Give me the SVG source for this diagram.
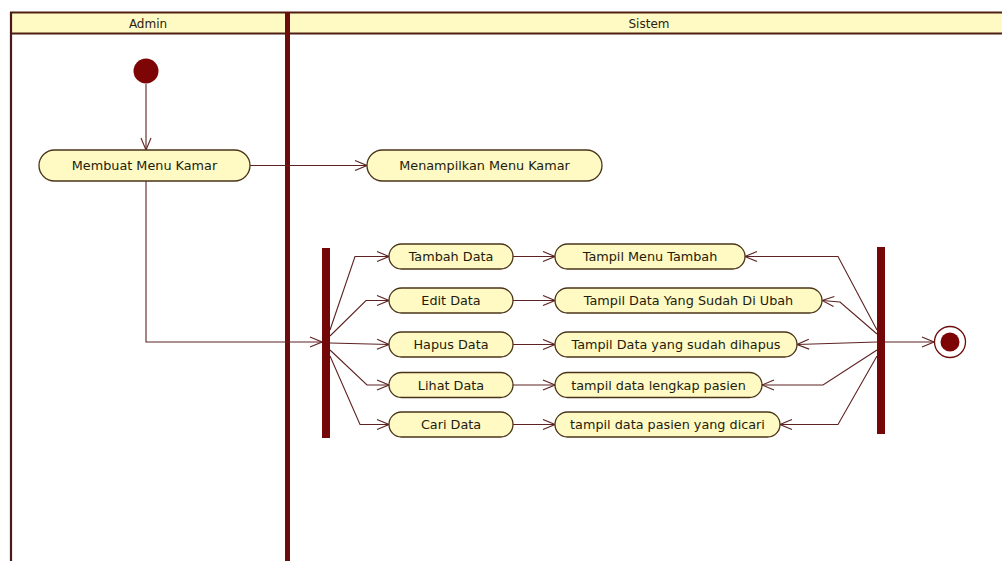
<svg xmlns="http://www.w3.org/2000/svg" width="1002" height="561" viewBox="0 0 1002 561">
<defs>
<style>
.lane{fill:#fffac4;stroke:#4e1f12;stroke-width:2}
.hdr{font-family:"DejaVu Sans","Liberation Sans",sans-serif;font-size:12px;fill:#2b2210;text-anchor:middle}
.act rect{fill:#fff9c4;stroke:#4a3418;stroke-width:1.3}
.act text{font-family:"DejaVu Sans","Liberation Sans",sans-serif;font-size:12.8px;fill:#231c0c;text-anchor:middle}
.bar{fill:#740808}
.edge{fill:none;stroke:#5e2222;stroke-width:1.1;marker-end:url(#arr)}
</style>
<marker id="arr" markerUnits="userSpaceOnUse" markerWidth="14" markerHeight="12" refX="13" refY="6" orient="auto">
<path d="M1,1 L13,6 L1,11" fill="none" stroke="#5e2222" stroke-width="1.1"/>
</marker>
</defs>
<rect width="1002" height="561" fill="#ffffff"/>
<g id="swimlanes">
<rect class="lane" x="11" y="12.5" width="1000" height="21"/>
<line x1="11" y1="12" x2="11" y2="570" stroke="#4a1a1a" stroke-width="2.2"/>
<rect x="285" y="12" width="5" height="560" fill="#6e0b0b"/>
<text class="hdr" x="148" y="28">Admin</text>
<text class="hdr" x="649" y="28">Sistem</text>
</g>
<g id="connectors">
<path class="edge" d="M146,84 L146,150"/>
<path class="edge" d="M250,165.5 L367,165.5"/>
<path class="edge" d="M146,181 L146,342 L322,342"/>
<path class="edge" d="M330,330 L355,256.5 L389,256.5"/>
<path class="edge" d="M330,336 L366,300.5 L389,300.5"/>
<path class="edge" d="M330,343 L389,344.5"/>
<path class="edge" d="M330,350 L367,385 L389,385"/>
<path class="edge" d="M330,356 L360,424.5 L389,424.5"/>
<path class="edge" d="M513,256.5 L555,256.5"/>
<path class="edge" d="M513,300.5 L555,300.5"/>
<path class="edge" d="M513,344.5 L555,344.5"/>
<path class="edge" d="M513,385 L555,385"/>
<path class="edge" d="M513,424.5 L555,424.5"/>
<path class="edge" d="M877,330 L838,256.5 L745,256.5"/>
<path class="edge" d="M877,334 L840,302 L822,300.5"/>
<path class="edge" d="M877,342 L797,344.5"/>
<path class="edge" d="M877,350 L823,385 L762,385"/>
<path class="edge" d="M877,356 L838,424.5 L780,424.5"/>
<path class="edge" d="M885,342 L934,342"/>
</g>
<g id="initial"><circle cx="146" cy="71" r="12.5" fill="#7d0505"/></g>
<g id="final">
<circle cx="950" cy="342" r="15.5" fill="#ffffff" stroke="#6e0b0b" stroke-width="1.3"/>
<circle cx="950" cy="342" r="9.5" fill="#7d0505"/>
</g>
<g id="fork"><rect class="bar" x="322" y="248" width="8" height="190"/></g>
<g id="join"><rect class="bar" x="877" y="247" width="8" height="187"/></g>
<g id="membuat_menu_kamar" class="act"><rect x="39" y="150" width="211" height="31" rx="15.5"/><text x="144.5" y="170">Membuat Menu Kamar</text></g>
<g id="menampilkan_menu_kamar" class="act"><rect x="367" y="150" width="235" height="31" rx="15.5"/><text x="484.5" y="170">Menampilkan Menu Kamar</text></g>
<g id="tambah_data" class="act"><rect x="389" y="244" width="124" height="25" rx="12.5"/><text x="451" y="261">Tambah Data</text></g>
<g id="edit_data" class="act"><rect x="389" y="288" width="124" height="25" rx="12.5"/><text x="451" y="305">Edit Data</text></g>
<g id="hapus_data" class="act"><rect x="389" y="332" width="124" height="25" rx="12.5"/><text x="451" y="349">Hapus Data</text></g>
<g id="lihat_data" class="act"><rect x="389" y="372.5" width="124" height="25" rx="12.5"/><text x="451" y="389.5">Lihat Data</text></g>
<g id="cari_data" class="act"><rect x="389" y="412" width="124" height="25" rx="12.5"/><text x="451" y="429">Cari Data</text></g>
<g id="tampil_menu_tambah" class="act"><rect x="555" y="244" width="190" height="25" rx="12.5"/><text x="650" y="261">Tampil Menu Tambah</text></g>
<g id="tampil_data_ubah" class="act"><rect x="555" y="288" width="267" height="25" rx="12.5"/><text x="688.5" y="305">Tampil Data Yang Sudah Di Ubah</text></g>
<g id="tampil_data_hapus" class="act"><rect x="555" y="332" width="242" height="25" rx="12.5"/><text x="676" y="349">Tampil Data yang sudah dihapus</text></g>
<g id="tampil_data_lengkap" class="act"><rect x="555" y="372.5" width="207" height="25" rx="12.5"/><text x="658.5" y="389.5">tampil data lengkap pasien</text></g>
<g id="tampil_data_dicari" class="act"><rect x="555" y="412" width="225" height="25" rx="12.5"/><text x="667.5" y="429">tampil data pasien yang dicari</text></g>
</svg>
